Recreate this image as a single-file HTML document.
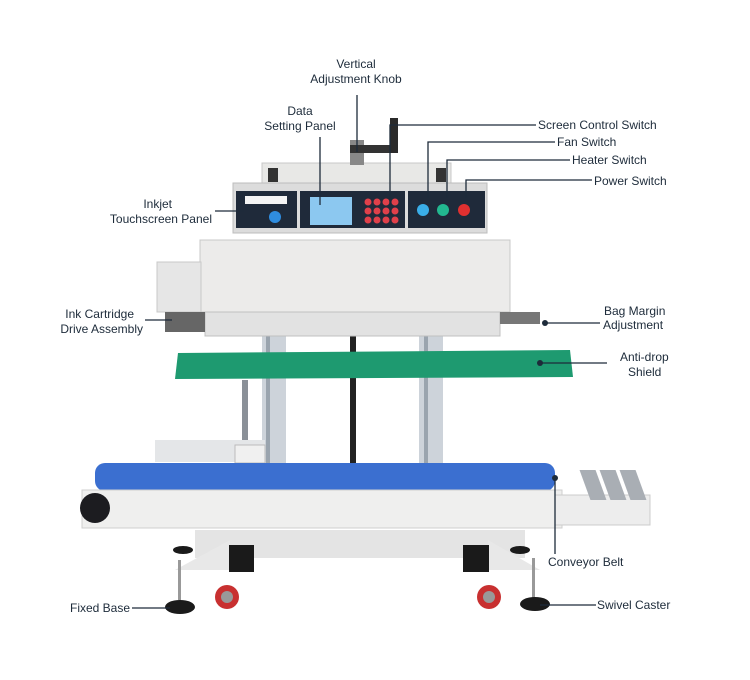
<!DOCTYPE html>
<html><head><meta charset="utf-8"><style>
html,body{margin:0;padding:0;background:#fff;}
svg{display:block;}
text{font-family:"Liberation Sans",sans-serif;font-size:12px;fill:#1d2b3a;}
</style></head><body>
<svg width="750" height="680" viewBox="0 0 750 680" xmlns="http://www.w3.org/2000/svg">
<rect width="750" height="680" fill="#fff"/>
<!-- columns -->
<rect x="262" y="335" width="24" height="130" fill="#cdd3da"/>
<rect x="419" y="335" width="24" height="130" fill="#cdd3da"/>
<rect x="266" y="335" width="4" height="130" fill="#9aa4ae"/>
<rect x="424" y="335" width="4" height="130" fill="#9aa4ae"/>
<rect x="350" y="335" width="6" height="130" fill="#222"/>
<rect x="242" y="380" width="6" height="70" fill="#8a9098"/>
<rect x="155" y="440" width="110" height="22" fill="#e4e6e8"/>
<rect x="235" y="445" width="30" height="18" fill="#f0f0f0" stroke="#bbb"/>
<!-- top knob -->
<rect x="262" y="163" width="189" height="22" fill="#e8e8e6" stroke="#c8c8c8"/>
<rect x="350" y="140" width="14" height="25" fill="#888"/>
<rect x="350" y="145" width="45" height="8" fill="#333"/>
<rect x="390" y="118" width="8" height="35" fill="#2a2a2a"/>
<rect x="268" y="168" width="10" height="14" fill="#333"/>
<rect x="436" y="168" width="10" height="14" fill="#333"/>
<!-- control panel -->
<rect x="233" y="183" width="254" height="50" fill="#dcdcdc" stroke="#bdbdbd"/>
<rect x="236" y="191" width="61" height="37" fill="#1f2a3a"/>
<rect x="300" y="191" width="105" height="37" fill="#1f2a3a"/>
<rect x="408" y="191" width="77" height="37" fill="#1f2a3a"/>
<rect x="245" y="196" width="42" height="8" fill="#f4f4f4"/>
<circle cx="275" cy="217" r="6" fill="#2f8de0"/>
<rect x="310" y="197" width="42" height="28" fill="#8cc8f0"/>
<g fill="#e0404a">
<circle cx="368" cy="202" r="3.5"/><circle cx="377" cy="202" r="3.5"/><circle cx="386" cy="202" r="3.5"/><circle cx="395" cy="202" r="3.5"/>
<circle cx="368" cy="211" r="3.5"/><circle cx="377" cy="211" r="3.5"/><circle cx="386" cy="211" r="3.5"/><circle cx="395" cy="211" r="3.5"/>
<circle cx="368" cy="220" r="3.5"/><circle cx="377" cy="220" r="3.5"/><circle cx="386" cy="220" r="3.5"/><circle cx="395" cy="220" r="3.5"/>
</g>
<circle cx="423" cy="210" r="6" fill="#3aaee8"/>
<circle cx="443" cy="210" r="6" fill="#22b890"/>
<circle cx="464" cy="210" r="6" fill="#e03030"/>
<!-- main body -->
<rect x="200" y="240" width="310" height="72" fill="#ecebea" stroke="#c8c8c8"/>
<rect x="157" y="262" width="44" height="50" fill="#e6e6e6" stroke="#c8c8c8"/>
<rect x="205" y="312" width="295" height="24" fill="#e2e2e2" stroke="#c0c0c0"/>
<rect x="165" y="312" width="40" height="20" fill="#666"/>
<rect x="500" y="312" width="40" height="12" fill="#777"/>
<!-- green shield -->
<polygon points="178,353 570,350 573,377 175,379" fill="#1e9a70"/>
<!-- conveyor -->
<rect x="95" y="463" width="460" height="28" rx="10" fill="#3b6fd0"/>
<rect x="82" y="490" width="480" height="38" fill="#efefee" stroke="#cfcfcf"/>
<rect x="555" y="495" width="95" height="30" fill="#ededed" stroke="#ccc"/>
<circle cx="95" cy="508" r="15" fill="#1c1c20"/>
<g fill="#a9aeb4"><rect x="585" y="470" width="16" height="30" transform="skewX(20)" transform-origin="593 485"/><rect x="605" y="470" width="16" height="30" transform="skewX(20)" transform-origin="613 485"/><rect x="625" y="470" width="16" height="30" transform="skewX(20)" transform-origin="633 485"/></g>
<!-- lower frame -->
<rect x="195" y="530" width="330" height="28" fill="#e4e4e4"/>
<polygon points="175,570 230,540 230,570" fill="#e8e8e8"/>
<polygon points="540,570 488,540 488,570" fill="#e8e8e8"/>
<rect x="229" y="545" width="25" height="27" fill="#1a1a1a"/>
<rect x="463" y="545" width="26" height="27" fill="#1a1a1a"/>
<rect x="178" y="560" width="3" height="40" fill="#999"/>
<rect x="532" y="558" width="3" height="40" fill="#999"/>
<circle cx="227" cy="597" r="12" fill="#c83030"/><circle cx="227" cy="597" r="6" fill="#999"/>
<circle cx="489" cy="597" r="12" fill="#c83030"/><circle cx="489" cy="597" r="6" fill="#999"/>
<ellipse cx="180" cy="607" rx="15" ry="7" fill="#1a1a1a"/>
<ellipse cx="535" cy="604" rx="15" ry="7" fill="#1a1a1a"/>
<ellipse cx="183" cy="550" rx="10" ry="4" fill="#1a1a1a"/>
<ellipse cx="520" cy="550" rx="10" ry="4" fill="#1a1a1a"/>
<!-- connectors -->
<g stroke="#1d2b3a" stroke-width="1.3" fill="none">
<line x1="357" y1="95" x2="357" y2="152"/>
<line x1="320" y1="137" x2="320" y2="205"/>
<polyline points="536,125 390,125 390,205"/>
<polyline points="555,142 428,142 428,198"/>
<polyline points="570,160 447,160 447,198"/>
<polyline points="592,180 466,180 466,198"/>
<line x1="215" y1="211" x2="244" y2="211"/>
<line x1="145" y1="320" x2="172" y2="320"/>
<line x1="545" y1="323" x2="600" y2="323"/>
<line x1="540" y1="363" x2="607" y2="363"/>
<line x1="555" y1="478" x2="555" y2="554"/>
<line x1="132" y1="608" x2="170" y2="608"/>
<line x1="540" y1="605" x2="596" y2="605"/>
</g>
<g fill="#1d2b3a"><circle cx="540" cy="363" r="3"/><circle cx="545" cy="323" r="3"/><circle cx="555" cy="478" r="3"/></g>
<!-- labels -->
<text x="356" y="68" text-anchor="middle">Vertical</text>
<text x="356" y="83" text-anchor="middle">Adjustment Knob</text>
<text x="300" y="115" text-anchor="middle">Data</text>
<text x="300" y="130" text-anchor="middle">Setting Panel</text>
<text x="538" y="129">Screen Control Switch</text>
<text x="557" y="146">Fan Switch</text>
<text x="572" y="164">Heater Switch</text>
<text x="594" y="185">Power Switch</text>
<text x="172" y="208" text-anchor="end">Inkjet</text>
<text x="212" y="223" text-anchor="end">Touchscreen Panel</text>
<text x="134" y="318" text-anchor="end">Ink Cartridge</text>
<text x="143" y="333" text-anchor="end">Drive Assembly</text>
<text x="604" y="315">Bag Margin</text>
<text x="603" y="329">Adjustment</text>
<text x="620" y="361">Anti-drop</text>
<text x="628" y="376">Shield</text>
<text x="548" y="566">Conveyor Belt</text>
<text x="70" y="612">Fixed Base</text>
<text x="597" y="609">Swivel Caster</text>
</svg>
</body></html>
